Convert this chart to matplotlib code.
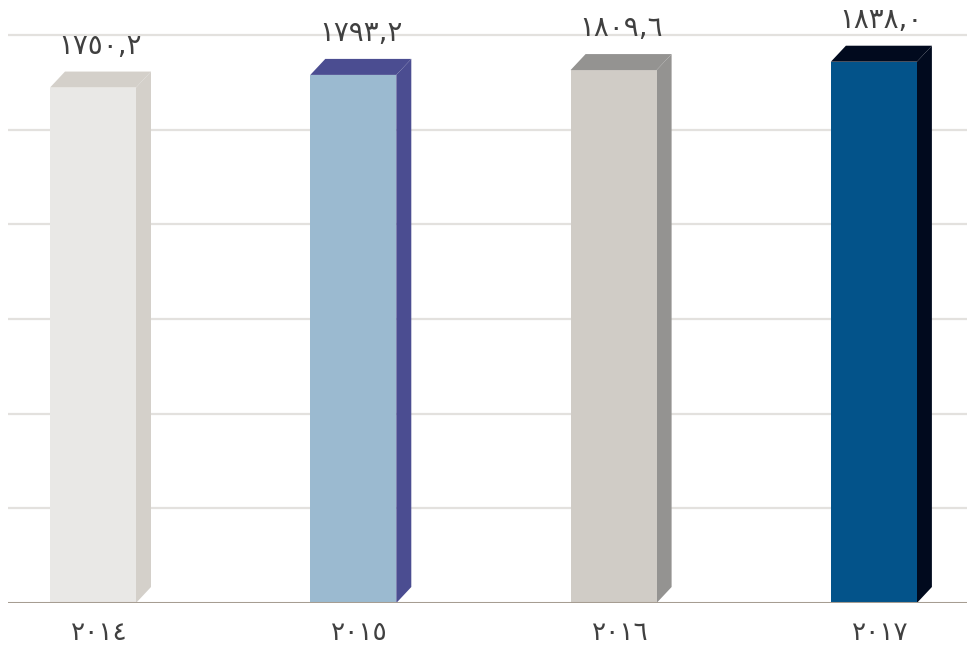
import matplotlib
matplotlib.use("Agg")
import matplotlib.pyplot as plt
from matplotlib.patches import Polygon
import numpy as np

categories = ["٢٠١٤", "٢٠١٥", "٢٠١٦", "٢٠١٧"]
values = [1750.2, 1793.2, 1809.6, 1838.0]
value_labels = ["١٧٥٠,٢", "١٧٩٣,٢", "١٨٠٩,٦", "١٨٣٨,٠"]
front_colors = ["#e9e8e6", "#9bbad0", "#d0ccc6", "#03538a"]
side_colors = ["#d4d0ca", "#4b4d91", "#949391", "#010a1e"]

W, H = 967, 645
fig = plt.figure(figsize=(W / 100, H / 100), dpi=100)
# axes: left px 8 -> right 967; baseline y px 603, top px 10
ax_left, ax_right, ax_base, ax_top = 8, 967, 603, 10
ax = fig.add_axes([ax_left / W, (H - ax_base) / H, (ax_right - ax_left) / W, (ax_base - ax_top) / H])

px_per_unit = 0.2945
cat_px = 260.3
first_center_px = 93
ymax = (ax_base - ax_top) / px_per_unit
ax.set_ylim(0, ymax)
ax.set_xlim(-(first_center_px - ax_left) / cat_px, (ax_right - first_center_px) / cat_px)

# gridlines
grid_step = 321.5
for k in range(1, 7):
    ax.axhline(grid_step * k, color="#e3e1de", lw=1.6, zorder=0)

x = np.arange(len(values))
width = 86 / cat_px
dx = 15 / cat_px
dy = 16 / px_per_unit

ax.bar(x, values, width=width, color=front_colors, zorder=3, linewidth=0)
for xi, v, sc in zip(x, values, side_colors):
    l, r = xi - width / 2, xi + width / 2
    top = Polygon([(l, v), (l + dx, v + dy), (r + dx, v + dy), (r, v)],
                  closed=True, facecolor=sc, edgecolor="none", zorder=3)
    side = Polygon([(r, 0), (r + dx, dy), (r + dx, v + dy), (r, v)],
                   closed=True, facecolor=sc, edgecolor="none", zorder=2.9)
    ax.add_patch(top)
    ax.add_patch(side)

ax.axhline(0, color="#a69d92", lw=2.2, zorder=4)

for xi, v, lab in zip(x, values, value_labels):
    ax.text(xi + dx / 2, v + dy + 26 / px_per_unit, lab, ha="center", va="center",
            fontsize=20, color="#404040", family=["DejaVu Sans"], zorder=5)

ax.set_xticks(x + 0.025)
ax.set_xticklabels(categories, fontsize=19, color="#404040", family=["DejaVu Sans"])
ax.tick_params(axis="x", length=0, pad=12)
ax.set_yticks([])
for s in ax.spines.values():
    s.set_visible(False)
ax.patch.set_alpha(0)

fig.savefig("out.png", dpi=100, facecolor="white")
